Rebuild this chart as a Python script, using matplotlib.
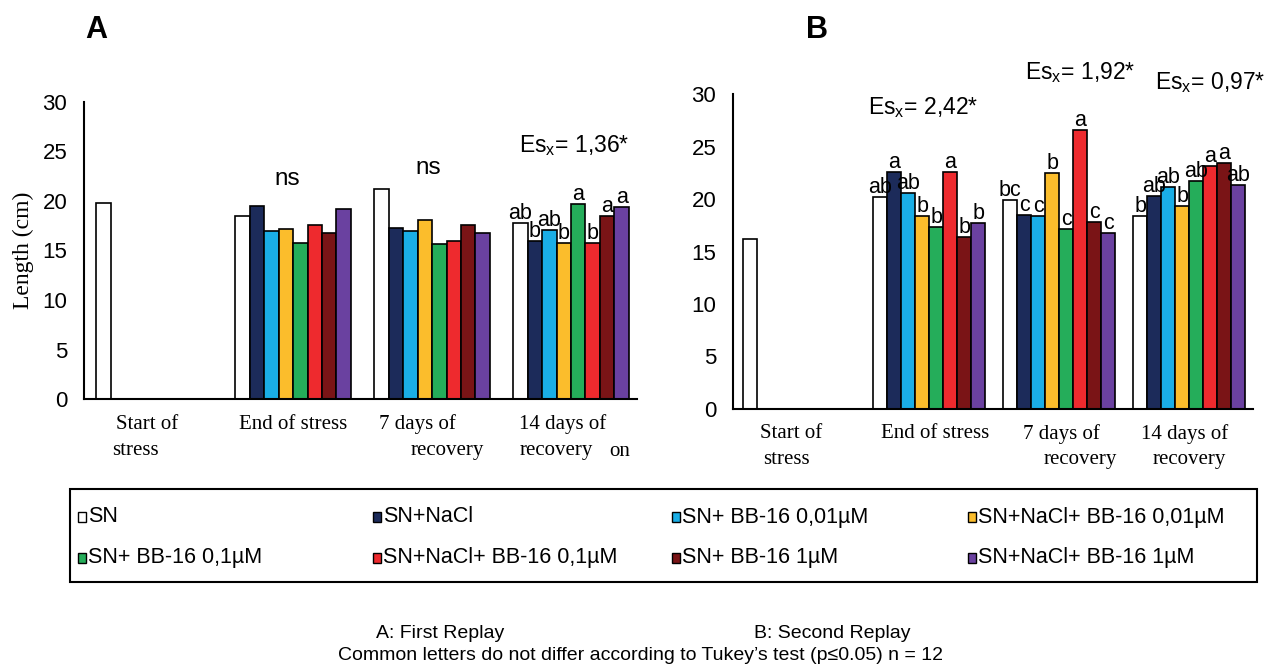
import numpy as np
import matplotlib
matplotlib.use('Agg')
import matplotlib.pyplot as plt
from matplotlib.patches import Rectangle

plt.rcParams['font.family'] = ['Liberation Sans', 'DejaVu Sans']
plt.rcParams['mathtext.fontset'] = 'custom'
plt.rcParams['mathtext.rm'] = 'Liberation Sans'
plt.rcParams['mathtext.it'] = 'Liberation Sans'
SERIF = ['Liberation Serif', 'DejaVu Serif']

W, H = 1265, 669

# treatments (legend order) and bar colours
treatments = ['SN', 'SN+NaCl', 'SN+ BB-16 0,01µM', 'SN+NaCl+ BB-16 0,01µM',
              'SN+ BB-16 0,1µM', 'SN+NaCl+ BB-16 0,1µM', 'SN+ BB-16 1µM',
              'SN+NaCl+ BB-16 1µM']
colors = ['#ffffff', '#1c2b5a', '#1aaee6', '#fbbd2c',
          '#25ad5a', '#ee2a2e', '#7a1416', '#6a41a0']

moments = ['Start of stress', 'End of stress', '7 days of recovery', '14 days of recovery']
moment_lines = [('Start of', 'stress'), ('End of stress', ''),
                ('7 days of', 'recovery'), ('14 days of', 'recovery')]

nan = np.nan
# A: first replay, length (cm); rows = moments, cols = treatments
length_a = np.array([
    [19.8, nan, nan, nan, nan, nan, nan, nan],
    [18.5, 19.5, 17.0, 17.2, 15.8, 17.6, 16.8, 19.2],
    [21.2, 17.3, 16.95, 18.1, 15.65, 16.0, 17.55, 16.8],
    [17.75, 16.0, 17.05, 15.8, 19.65, 15.8, 18.5, 19.4],
])
# B: second replay
length_b = np.array([
    [16.2, nan, nan, nan, nan, nan, nan, nan],
    [20.2, 22.6, 20.55, 18.4, 17.3, 22.6, 16.35, 17.7],
    [19.9, 18.45, 18.4, 22.5, 17.1, 26.6, 17.85, 16.8],
    [18.35, 20.25, 21.2, 19.3, 21.7, 23.2, 23.4, 21.3],
])

# Tukey letters
letters_a = [None, None, None,
             ['ab', 'b', 'ab', 'b', 'a', 'b', 'a', 'a']]
letters_b = [None,
             ['ab', 'a', 'ab', 'b', 'b', 'a', 'b', 'b'],
             ['bc', 'c', 'c', 'b', 'c', 'a', 'c', 'c'],
             ['b', 'ab', 'ab', 'b', 'ab', 'a', 'a', 'ab']]

esx_a = 'Es$_{\\rm x}$= 1,36*'
esx_b = ['Es$_{\\rm x}$= 2,42*', 'Es$_{\\rm x}$= 1,92*', 'Es$_{\\rm x}$= 0,97*']


def px(x, y):
    return x / W, 1 - y / H


def panel(rect, data, letters, bw, xlim, label_offsets):
    ax = fig.add_axes(rect)
    x0 = np.arange(len(moments))
    for i in range(len(treatments)):
        xs = x0 + (i - 3.5) * bw
        ax.bar(xs, data[:, i], width=bw, color=colors[i], edgecolor='black',
               linewidth=1.2, zorder=2)
        for g in range(len(moments)):
            if letters[g] is not None:
                ax.annotate(letters[g][i], xy=(xs[g], data[g, i]),
                            xytext=(0, -1), textcoords='offset pixels',
                            ha='center', va='bottom', fontsize=15.5)
    ax.set_xlim(*xlim)
    ax.set_ylim(0, 30)
    ax.set_yticks(range(0, 31, 5))
    ax.tick_params(axis='y', length=0, labelsize=16, pad=12)
    ax.set_xticks([])
    for s in ['top', 'right']:
        ax.spines[s].set_visible(False)
    ax.spines['left'].set_linewidth(1.5)
    ax.spines['bottom'].set_linewidth(1.5)
    ax.set_facecolor('none')
    for g, (l1, l2) in enumerate(moment_lines):
        d1, d2 = label_offsets[g]
        ax.annotate(l1, xy=(x0[g], 0), xytext=(d1, -25), textcoords='offset pixels',
                    ha='center', va='center', fontsize=15, family=SERIF,
                    annotation_clip=False)
        if l2:
            ax.annotate(l2, xy=(x0[g], 0), xytext=(d2, -51), textcoords='offset pixels',
                        ha='center', va='center', fontsize=15, family=SERIF,
                        annotation_clip=False)
    return ax


fig = plt.figure(figsize=(W / 100, H / 100), dpi=100)

# panel A
axA = panel([84 / W, 1 - 399.3 / H, (637 - 84) / W, (399.3 - 101.7) / H],
            length_a, letters_a, 0.104, (-0.505, 3.475),
            [(-7, -19), (0, 0), (-15, 15), (-8, -15)])
axA.set_ylabel('Length (cm)', fontsize=17, family=SERIF, labelpad=6)
fig.text(*px(96, 30), 'A', fontsize=22, fontweight='bold', ha='center', va='center')
fig.text(*px(287, 179), 'ns', fontsize=17.5, ha='center', va='center')
fig.text(*px(428, 168), 'ns', fontsize=17.5, ha='center', va='center')
fig.text(*px(574, 146), esx_a, fontsize=16.5, ha='center', va='center')
fig.text(*px(620, 452), 'on', fontsize=15, family=SERIF, ha='center', va='center')

# panel B
axB = panel([733 / W, 1 - 408.7 / H, (1253 - 733) / W, (408.7 - 94.3) / H],
            length_b, letters_b, 0.108, (-0.508, 3.49),
            [(-8, -13), (6, 0), (2, 21), (-5, 0)])
fig.text(*px(817, 30), 'B', fontsize=22, fontweight='bold', ha='center', va='center')
for (x, y), t in zip([(923, 108), (1080, 73), (1210, 83)], esx_b):
    fig.text(*px(x, y), t, fontsize=16.5, ha='center', va='center')

# legend box
fig.patches.append(Rectangle(px(70, 582), (1257 - 70) / W, (582 - 489) / H,
                             transform=fig.transFigure, fill=False,
                             edgecolor='black', linewidth=1.5))
col_x = [78, 373, 672, 968]
row_y = [517, 558]
for i, (name, c) in enumerate(zip(treatments, colors)):
    cx, cy = col_x[i % 4], row_y[i // 4]
    fig.patches.append(Rectangle(px(cx, cy + 5), 8 / W, 10 / H,
                                 transform=fig.transFigure, facecolor=c,
                                 edgecolor='black', linewidth=1.0))
    fig.text(*px(cx + 10, cy), name, fontsize=15.5, ha='left', va='center')

# caption
fig.text(*px(440, 633), 'A: First Replay', fontsize=14, ha='center', va='center')
fig.text(*px(832, 633), 'B: Second Replay', fontsize=14, ha='center', va='center')
fig.text(*px(640, 656), 'Common letters do not differ according to Tukey\u2019s test (p\u22640.05) n = 12',
         fontsize=14, ha='center', va='center')

fig.savefig('out.png', dpi=100)
